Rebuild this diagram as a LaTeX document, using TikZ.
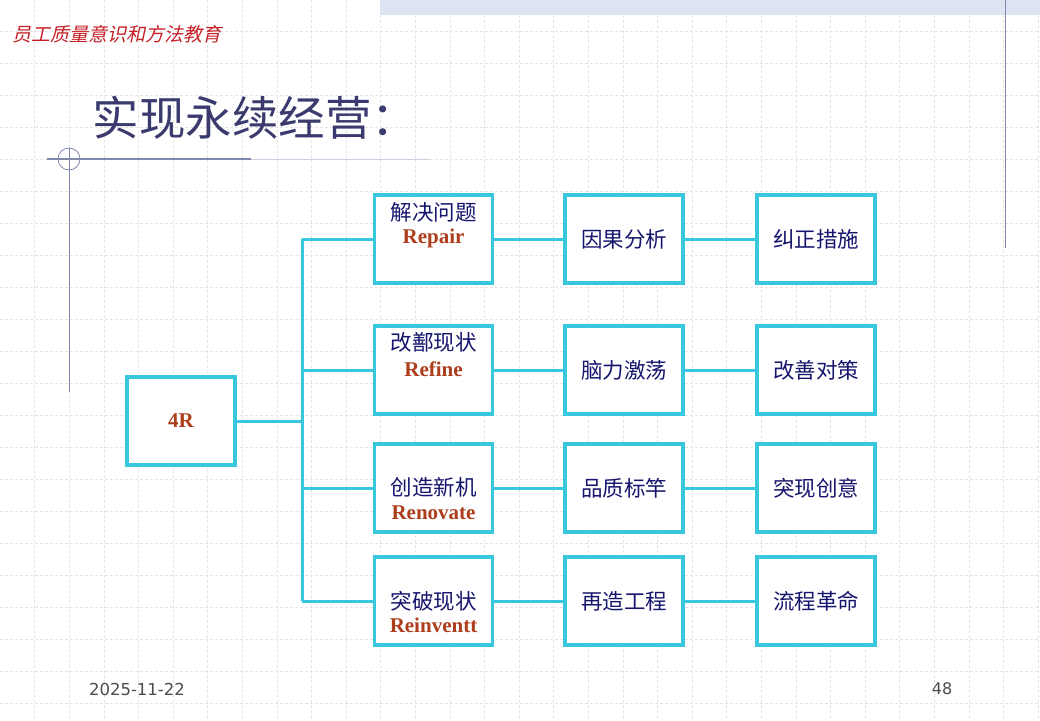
\documentclass[tikz,border=0pt]{standalone}
\usepackage{fontspec}
\setmainfont{Liberation Serif}
\newfontfamily\cjk{Noto Sans CJK SC}
\newfontfamily\cjkslant[FakeSlant=0.22]{Noto Sans CJK SC}
\newfontfamily\footfont{DejaVu Sans}
\usepackage{tikz}
\usetikzlibrary{positioning, calc}
\definecolor{boxcyan}{RGB}{56,200,220}
\definecolor{navytext}{RGB}{22,22,110}
\definecolor{rusttext}{RGB}{172,62,28}
\definecolor{titleblue}{RGB}{58,58,110}
\definecolor{headred}{RGB}{196,32,40}
\definecolor{decoline}{RGB}{128,136,176}
\definecolor{bandfill}{RGB}{222,227,242}

\begin{document}
\begin{tikzpicture}[x=1pt, y=-1pt,
  gridline/.style={gray!20, line width=0.6pt, dash pattern=on 3pt off 2pt},
  box/.style={draw=boxcyan, line width=3.3pt, fill=white,
              minimum width=118pt, minimum height=88pt, inner sep=0pt},
  link/.style={draw=boxcyan, line width=3pt},
  zh/.style={font=\cjk\fontsize{21.5}{26}\selectfont, text=navytext, align=center},
  en/.style={font=\bfseries\fontsize{21}{26}\selectfont, text=rusttext}
]
  \useasboundingbox (0,0) rectangle (1040,720);
  \fill[white] (0,0) rectangle (1040,720);

  % background grid
  \foreach \gx in {1,...,30}
    \draw[gridline] (\gx*34.6,0) -- (\gx*34.6,720);
  \foreach \gy in {1,...,22}
    \draw[gridline] (0,\gy*32-1) -- (1040,\gy*32-1);

  % slide decoration
  \fill[bandfill] (380,0) rectangle (1040,15);
  \draw[decoline, line width=1pt] (1005,0) -- (1005,248);
  \draw[decoline, line width=1.2pt] (47,159) -- (251,159);
  \draw[decoline!40, line width=1pt] (251,159) -- (430,159);
  \draw[decoline, line width=0.8pt] (69,159) circle (11);
  \draw[decoline, line width=1pt] (69,148) -- (69,392);

  \node[font=\cjkslant\fontsize{19}{21}\selectfont, text=headred, anchor=west]
    (header) at (9,34) {员工质量意识和方法教育};
  \node[font=\cjk\fontsize{46.5}{50}\selectfont, text=titleblue, anchor=west]
    (title) at (89,118) {实现永续经营：};

  % boxes
  \node[box, minimum width=108pt] (root) at (181,421) {};
  \node[en] (roott) at (root) {4R};

  \node[box] (a1) at (433.5,239) {};
  \node[box] (a2) at (433.5,370) {};
  \node[box] (a3) at (433.5,488) {};
  \node[box] (a4) at (433.5,601) {};

  \node[box] (b1) at (624,239) {};
  \node[box] (b2) at (624,370) {};
  \node[box] (b3) at (624,488) {};
  \node[box] (b4) at (624,601) {};

  \node[box] (c1) at (816,239) {};
  \node[box] (c2) at (816,370) {};
  \node[box] (c3) at (816,488) {};
  \node[box] (c4) at (816,601) {};

  % connectors
  \coordinate (bus) at (302,0);
  \draw[link] (root.east) -- (root.east -| bus);
  \draw[link] (bus |- a1.west) -- (bus |- a4.west);
  \foreach \i in {1,...,4} {
    \draw[link] (bus |- a\i.west) -- (a\i.west);
    \draw[link] (a\i) -- (b\i);
    \draw[link] (b\i) -- (c\i);
  }

  % box texts
  \node[zh] (a1zh) at ([yshift=27]a1.center) {解决问题};
  \node[en] (a1en) at ([yshift=1]a1.center) {Repair};
  \node[zh] (a2zh) at ([yshift=28]a2.center) {改鄯现状};
  \node[en] (a2en) at ([yshift=1]a2.center) {Refine};
  \node[zh] (a3zh) at ([yshift=1]a3.center) {创造新机};
  \node[en] (a3en) at ([yshift=-25]a3.center) {Renovate};
  \node[zh] (a4zh) at (a4.center) {突破现状};
  \node[en] (a4en) at ([yshift=-24]a4.center) {Reinventt};

  \node[zh] (b1t) at (b1) {因果分析};
  \node[zh] (b2t) at (b2) {脑力激荡};
  \node[zh] (b3t) at (b3) {品质标竿};
  \node[zh] (b4t) at (b4) {再造工程};

  \node[zh] (c1t) at (c1) {纠正措施};
  \node[zh] (c2t) at (c2) {改善对策};
  \node[zh] (c3t) at (c3) {突现创意};
  \node[zh] (c4t) at (c4) {流程革命};

  % footer
  \node[font=\footfont\fontsize{16.5}{19}\selectfont, text=black!70] (date) at (137,689) {2025-11-22};
  \node[font=\footfont\fontsize{16}{19}\selectfont, text=black!70] (page) at (942,689) {48};
\end{tikzpicture}
\end{document}
